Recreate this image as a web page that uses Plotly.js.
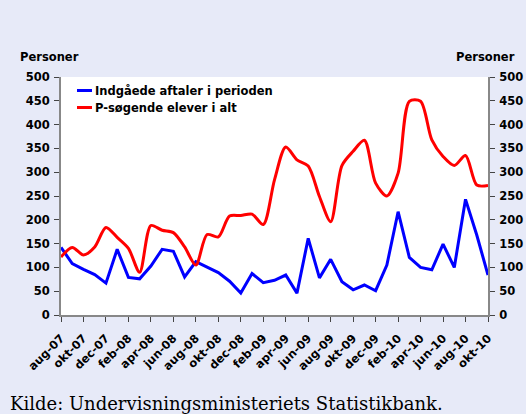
<!DOCTYPE html>
<html>
<head>
<meta charset="utf-8">
<script src="https://cdn.plot.ly/plotly-3.0.1.min.js"></script>
<style>
html,body{margin:0;padding:0;background:#e7eaf8;}
#chart{width:526px;height:414px;}
</style>
</head>
<body>
<div id="chart"></div>
<script>
// Months (categories)
var months = ['aug-07','sep-07','okt-07','nov-07','dec-07','jan-08','feb-08','mar-08','apr-08','maj-08','jun-08','jul-08',
  'aug-08','sep-08','okt-08','nov-08','dec-08','jan-09','feb-09','mar-09','apr-09','maj-09','jun-09','jul-09',
  'aug-09','sep-09','okt-09','nov-09','dec-09','jan-10','feb-10','mar-10','apr-10','maj-10','jun-10','jul-10',
  'aug-10','sep-10','okt-10'];
// Tick labels (every second month)
var tickLabels = ['aug-07','okt-07','dec-07','feb-08','apr-08','jun-08','aug-08','okt-08','dec-08','feb-09',
  'apr-09','jun-09','aug-09','okt-09','dec-09','feb-10','apr-10','jun-10','aug-10','okt-10'];
// Series
var aftaler = [142,108,96,85,67,138,79,76,103,138,134,80,112,100,89,71,46,87,68,73,84,46,161,78,117,70,53,63,51,105,217,121,100,95,149,100,243,168,84];
var soegende = [122,142,126,143,184,163,140,90,188,178,173,143,105,169,164,208,209,212,190,284,353,326,313,249,196,314,344,367,277,250,298,449,449,368,333,314,335,273,272];
var seriesNames = ['Indgåede aftaler i perioden','P-søgende elever i alt'];
var yTicks = [0,50,100,150,200,250,300,350,400,450,500];

var W = 526, H = 414, L = 61, R = 38, T = 77, B = 99;
var pw = W - L - R, ph = H - T - B;
function px(x){ return (x - L) / pw; }
function py(y){ return (H - B - y) / ph; }

var tickFont = {family:'DejaVu Sans, Arial, sans-serif', size:11.5, color:'#000', weight:'bold'};

var traces = [
  {x: months, y: aftaler, name: seriesNames[0], type:'scatter', mode:'lines',
   line:{color:'#0000ff', width:3}, yaxis:'y'},
  {x: months, y: soegende, name: seriesNames[1], type:'scatter', mode:'lines',
   line:{color:'#ff0000', width:3, shape:'spline', smoothing:0.8}, yaxis:'y2'}
];

var yAxisCommon = {
  range:[0,500], tickvals:yTicks, ticks:'outside', ticklen:5, tickwidth:1, tickcolor:'#444',
  showgrid:false, zeroline:false, showline:true, linecolor:'#888', linewidth:2,
  tickfont:tickFont, ticklabelstandoff:2, fixedrange:true
};

var layout = {
  width: W, height: H,
  paper_bgcolor:'#e7eaf8', plot_bgcolor:'#ffffff',
  margin:{l:L, r:R, t:T, b:B, pad:0},
  showlegend:false,
  xaxis:{
    type:'category', categoryorder:'array', categoryarray: months,
    range:[0, months.length-1], tickvals: tickLabels, ticktext: tickLabels,
    tickangle:-45, ticks:'outside', ticklen:5, tickwidth:1, tickcolor:'#444',
    showgrid:false, zeroline:false, showline:true, linecolor:'#888', linewidth:2,
    tickfont:{family:'DejaVu Sans, Arial, sans-serif', size:11.5, color:'#000', weight:'bold'},
    ticklabelstandoff:5, fixedrange:true
  },
  yaxis: Object.assign({side:'left'}, yAxisCommon),
  yaxis2: Object.assign({side:'right', overlaying:'y', anchor:'x'}, yAxisCommon),
  shapes:[
    {type:'line', xref:'paper', yref:'paper', x0:px(77), x1:px(92), y0:py(90.5), y1:py(90.5), line:{color:'#0000ff', width:3}},
    {type:'line', xref:'paper', yref:'paper', x0:px(77), x1:px(92), y0:py(107.5), y1:py(107.5), line:{color:'#ff0000', width:3}}
  ],
  annotations:[
    {text:'Personer', xref:'paper', yref:'paper', x:px(18), y:py(57), xanchor:'left', yanchor:'middle', showarrow:false,
     font:{family:'DejaVu Sans, Arial, sans-serif', size:11.5, color:'#000', weight:'bold'}},
    {text:'Personer', xref:'paper', yref:'paper', x:px(517), y:py(57), xanchor:'right', yanchor:'middle', showarrow:false,
     font:{family:'DejaVu Sans, Arial, sans-serif', size:11.5, color:'#000', weight:'bold'}},
    {text:seriesNames[0], xref:'paper', yref:'paper', x:px(93), y:py(90.5), xanchor:'left', yanchor:'middle', showarrow:false,
     font:{family:'DejaVu Sans, Arial, sans-serif', size:11.5, color:'#000', weight:'bold'}},
    {text:seriesNames[1], xref:'paper', yref:'paper', x:px(93), y:py(107.5), xanchor:'left', yanchor:'middle', showarrow:false,
     font:{family:'DejaVu Sans, Arial, sans-serif', size:11.5, color:'#000', weight:'bold'}},
    {text:'Kilde: Undervisningsministeriets Statistikbank.', xref:'paper', yref:'paper', x:px(8), y:py(403), xanchor:'left', yanchor:'middle', showarrow:false,
     font:{family:'DejaVu Serif, Liberation Serif, serif', size:18, color:'#000'}}
  ]
};

Plotly.newPlot('chart', traces, layout, {staticPlot:true, displayModeBar:false});
</script>
</body>
</html>
